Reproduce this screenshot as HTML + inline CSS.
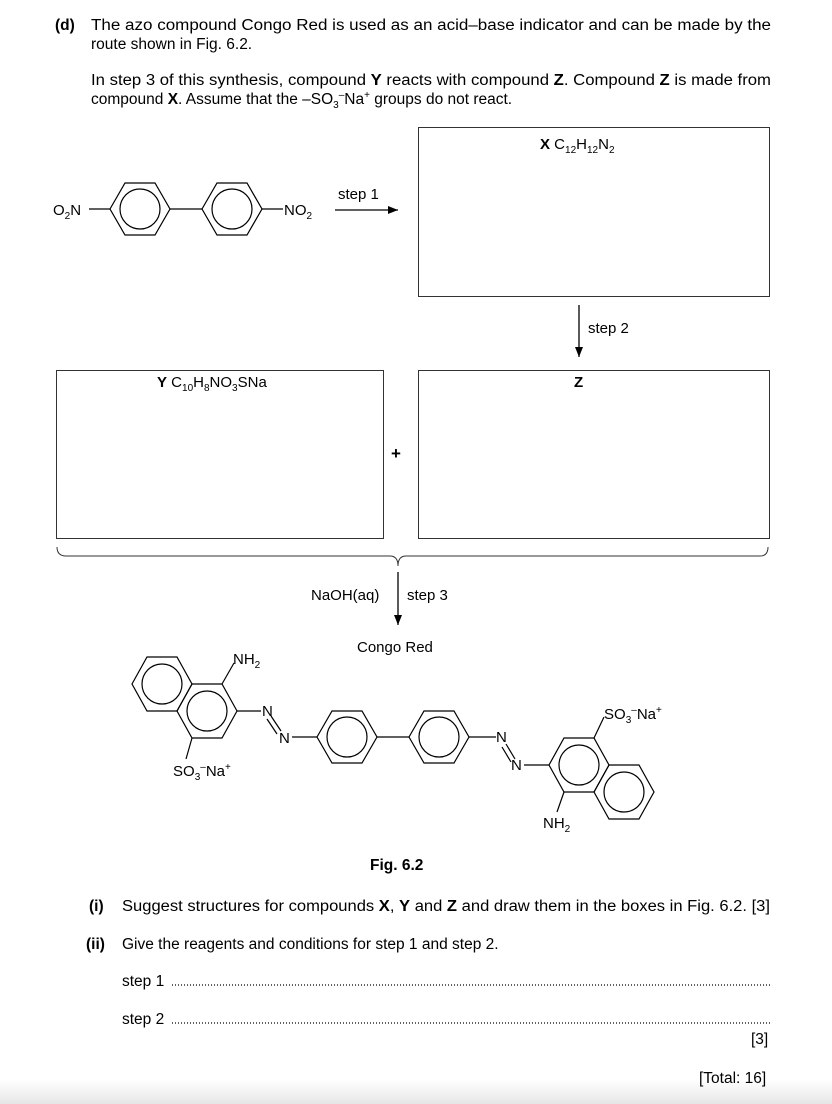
<!DOCTYPE html>
<html><head><meta charset="utf-8"><style>
html,body{margin:0;padding:0;background:#fff;}
svg{display:block;font-family:"Liberation Sans",Arial,sans-serif;}
</style></head><body>
<svg width="832" height="1104" viewBox="0 0 832 1104" xmlns="http://www.w3.org/2000/svg">
<defs>
<linearGradient id="g" x1="0" y1="0" x2="0" y2="1"><stop offset="0" stop-color="#fff"/><stop offset="1" stop-color="#e6e6e6"/></linearGradient>
<marker id="ah" markerWidth="10" markerHeight="8" refX="10" refY="4" orient="auto" markerUnits="userSpaceOnUse"><path d="M0,0 L10,4 L0,8 z" fill="#000"/></marker>
</defs>
<rect x="0" y="1080" width="832" height="24" fill="url(#g)"/>
<g font-size="15.5" fill="#000">
<text x="55" y="30"><tspan font-weight="bold">(d)</tspan></text>
<text x="91" y="30" textLength="680" lengthAdjust="spacingAndGlyphs">The azo compound Congo Red is used as an acid–base indicator and can be made by the</text>
<text x="91" y="49">route shown in Fig. 6.2.</text>
<text x="91" y="85" textLength="680" lengthAdjust="spacingAndGlyphs">In step 3 of this synthesis, compound <tspan font-weight="bold">Y</tspan> reacts with compound <tspan font-weight="bold">Z</tspan>. Compound <tspan font-weight="bold">Z</tspan> is made from</text>
<text x="91" y="104">compound <tspan font-weight="bold">X</tspan>. Assume that the –SO<tspan font-size="10" dy="4">3</tspan><tspan font-size="10" dy="-10">–</tspan><tspan dy="6">Na</tspan><tspan font-size="10" dy="-6">+</tspan><tspan dy="6"> groups do not react.</tspan></text>
</g>
<g fill="none" stroke="#333" stroke-width="1">
<rect x="418.5" y="127.5" width="351" height="169"/>
<rect x="56.5" y="370.5" width="327" height="168"/>
<rect x="418.5" y="370.5" width="351" height="168"/>
<path d="M57,547 Q57,556 66,556 L390,556 Q398,556 398,566 Q398,556 406,556 L760,556 Q768,556 768,547"/>
</g>
<g font-size="15" fill="#000">
<text x="540" y="149"><tspan font-weight="bold">X</tspan> C<tspan font-size="10" dy="4">12</tspan><tspan dy="-4">H</tspan><tspan font-size="10" dy="4">12</tspan><tspan dy="-4">N</tspan><tspan font-size="10" dy="4">2</tspan></text>
<text x="157" y="387"><tspan font-weight="bold">Y</tspan> C<tspan font-size="10" dy="4">10</tspan><tspan dy="-4">H</tspan><tspan font-size="10" dy="4">8</tspan><tspan dy="-4">NO</tspan><tspan font-size="10" dy="4">3</tspan><tspan dy="-4">SNa</tspan></text>
<text x="574" y="387" font-weight="bold">Z</text>
<text x="588" y="333">step 2</text>
<text x="391" y="459" font-weight="bold" font-size="17">+</text>
<text x="338" y="199">step 1</text>
<text x="311" y="600">NaOH(aq)</text>
<text x="407" y="600">step 3</text>
<text x="357" y="652">Congo Red</text>
</g>
<g stroke="#000" stroke-width="1.3" fill="none">
<line x1="335" y1="210" x2="398" y2="210" marker-end="url(#ah)"/>
<line x1="579" y1="305" x2="579" y2="357" marker-end="url(#ah)"/>
<line x1="398" y1="572" x2="398" y2="625" marker-end="url(#ah)"/>
</g>
<g stroke="#000" stroke-width="1.2" fill="none">
<polygon points="110,209 125,183 155,183 170,209 155,235 125,235"/><circle cx="140" cy="209" r="20"/>
<polygon points="202,209 217,183 247,183 262,209 247,235 217,235"/><circle cx="232" cy="209" r="20"/>
<line x1="170" y1="209" x2="202" y2="209"/>
<line x1="89" y1="209" x2="110" y2="209"/>
<line x1="262" y1="209" x2="283" y2="209"/>
</g>
<g font-size="15" fill="#000">
<text x="53" y="215">O<tspan font-size="10" dy="4">2</tspan><tspan dy="-4">N</tspan></text>
<text x="284" y="215">NO<tspan font-size="10" dy="4">2</tspan></text>
</g>
<g stroke="#000" stroke-width="1.2" fill="none">
<polygon points="132,684 147,657 177,657 192,684 177,711 147,711"/><circle cx="162" cy="684" r="20"/>
<polygon points="177,711 192,684 222,684 237,711 222,738 192,738"/><circle cx="207" cy="711" r="20"/>
<line x1="222" y1="684" x2="234" y2="663"/>
<line x1="192" y1="738" x2="186" y2="759"/>
<line x1="237" y1="711" x2="261" y2="711"/>
<line x1="271" y1="716" x2="281" y2="731"/><line x1="267" y1="719" x2="277" y2="734"/>
<line x1="292" y1="737" x2="317" y2="737"/>
<polygon points="317,737 332,711 362,711 377,737 362,763 332,763"/><circle cx="347" cy="737" r="20"/>
<polygon points="409,737 424,711 454,711 469,737 454,763 424,763"/><circle cx="439" cy="737" r="20"/>
<line x1="377" y1="737" x2="409" y2="737"/>
<line x1="469" y1="737" x2="496" y2="737"/>
<line x1="506" y1="744" x2="515" y2="759"/><line x1="502" y1="747" x2="511" y2="762"/>
<line x1="524" y1="765" x2="549" y2="765"/>
<polygon points="549,765 564,738 594,738 609,765 594,792 564,792"/><circle cx="579" cy="765" r="20"/>
<polygon points="594,792 609,765 639,765 654,792 639,819 609,819"/><circle cx="624" cy="792" r="20"/>
<line x1="594" y1="738" x2="604" y2="717"/>
<line x1="564" y1="792" x2="557" y2="812"/>
</g>
<g font-size="15" fill="#000">
<text x="233" y="664">NH<tspan font-size="10" dy="4">2</tspan></text>
<text x="173" y="776">SO<tspan font-size="10" dy="4">3</tspan><tspan font-size="10" dy="-10">–</tspan><tspan dy="6">Na</tspan><tspan font-size="10" dy="-6">+</tspan></text>
<text x="262" y="716">N</text>
<text x="279" y="743">N</text>
<text x="496" y="742">N</text>
<text x="511" y="770">N</text>
<text x="604" y="719">SO<tspan font-size="10" dy="4">3</tspan><tspan font-size="10" dy="-10">–</tspan><tspan dy="6">Na</tspan><tspan font-size="10" dy="-6">+</tspan></text>
<text x="543" y="828">NH<tspan font-size="10" dy="4">2</tspan></text>
</g>
<g font-size="15.5" fill="#000">
<text x="370" y="870" font-weight="bold">Fig. 6.2</text>
<text x="89" y="911" font-weight="bold">(i)</text>
<text x="122" y="911" textLength="648" lengthAdjust="spacingAndGlyphs">Suggest structures for compounds <tspan font-weight="bold">X</tspan>, <tspan font-weight="bold">Y</tspan> and <tspan font-weight="bold">Z</tspan> and draw them in the boxes in Fig. 6.2. [3]</text>
<text x="86" y="949" font-weight="bold">(ii)</text>
<text x="122" y="949">Give the reagents and conditions for step 1 and step 2.</text>
<text x="122" y="986">step 1</text>
<text x="122" y="1024">step 2</text>
<text x="751" y="1044">[3]</text>
<text x="699" y="1083">[Total: 16]</text>
</g>
<g stroke="#000" stroke-width="1.2" stroke-dasharray="1,2">
<line x1="172" y1="985" x2="770" y2="985"/>
<line x1="172" y1="1023" x2="770" y2="1023"/>
</g>
</svg>
</body></html>
